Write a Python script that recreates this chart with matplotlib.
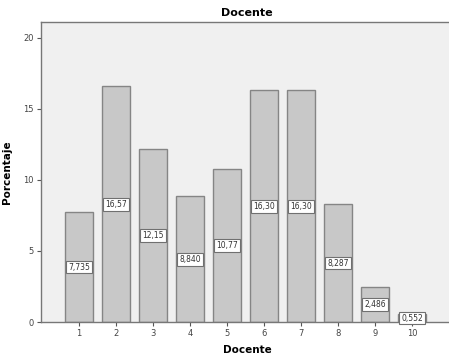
import matplotlib
matplotlib.use("Agg")
import matplotlib.pyplot as plt

categories = ["1", "2", "3", "4", "5", "6", "7", "8", "9", "10"]
values = [7.735, 16.57, 12.15, 8.840, 10.77, 16.30, 16.30, 8.287, 2.486, 0.552]
labels = ["7,735", "16,57", "12,15", "8,840", "10,77", "16,30", "16,30", "8,287", "2,486", "0,552"]
yticks = [0, 5, 10, 15, 20]

fig = plt.figure(figsize=(4.49, 3.6), dpi=100)
ax = fig.add_axes([41/449, 1-322/360, 1-41/449+0.01, (322-22)/360])
ax.set_facecolor("#f0f0f0")
pos = list(range(1, len(categories)+1))
ax.bar(pos, values, width=0.76, color="#c8c8c8", edgecolor="#858585", linewidth=1.0, zorder=2)
for p, v, l in zip(pos, values, labels):
    ax.text(p, v/2, l, ha="center", va="center", fontsize=5.5, color="#333333", zorder=3,
            bbox=dict(boxstyle="square,pad=0.25", fc="white", ec="#707070", lw=0.8))
ax.set_xlim(-0.027, 11.12)
ax.set_ylim(0, 21.1)
ax.set_xticks(pos)
ax.set_xticklabels(categories, fontsize=6, color="#444444")
ax.set_yticks(yticks)
ax.set_yticklabels([str(t) for t in yticks], fontsize=6, color="#444444")
ax.tick_params(axis="both", direction="out", length=3, width=0.8, color="#555555", pad=2)
for s in ["left", "bottom", "top"]:
    ax.spines[s].set_color("#777777")
    ax.spines[s].set_linewidth(1.0)
ax.spines["right"].set_visible(False)
ax.set_title("Docente", fontsize=8, fontweight="bold", pad=4)
ax.set_xlabel("Docente", fontsize=7.5, fontweight="bold", labelpad=5)
ax.set_ylabel("Porcentaje", fontsize=7.5, fontweight="bold", labelpad=8)
fig.savefig("out.png", dpi=100)
